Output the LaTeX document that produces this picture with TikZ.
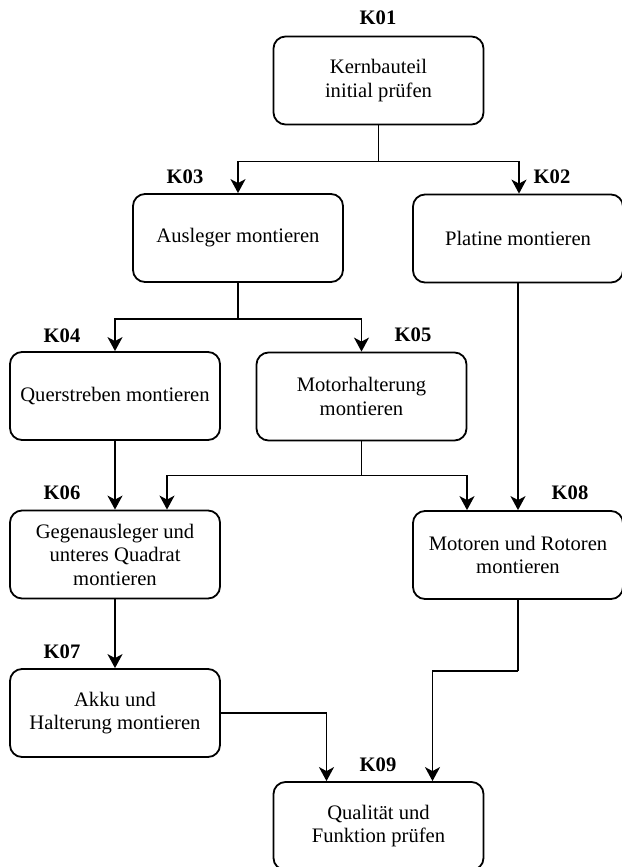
\documentclass[tikz,border=0pt]{standalone}
\usepackage{fontspec}
\setmainfont{Liberation Serif}
\usetikzlibrary{arrows.meta}
\begin{document}
\begin{tikzpicture}[x=1pt,y=-1pt,
  box/.style={draw, line width=1.8pt, rounded corners=12pt, minimum width=210pt, minimum height=88pt,
    inner sep=0pt, align=center, font=\fontsize{20.6}{23.5}\selectfont},
  lbl/.style={font=\fontsize{20.6}{23.5}\selectfont\bfseries, inner sep=0pt},
  arr/.style={line width=1.8pt, -{Stealth[length=14pt,width=15pt,inset=4pt]}},
  ln/.style={line width=1.8pt}]
\useasboundingbox (0,0) rectangle (621,867);
\node[box] (k01) at (378.5,80.5) {Kernbauteil\\initial prüfen};
\node[box] (k03) at (238,238) {Ausleger montieren};
\node[box] (k02) at (518,238.5) {Platine montieren};
\node[box] (k04) at (115,396) {Querstreben montieren};
\node[box] (k05) at (361.5,396.5) {Motorhalterung\\montieren};
\node[box] (k06) at (115,554.5) {Gegenausleger und\\unteres Quadrat\\montieren};
\node[box] (k08) at (518,555) {Motoren und Rotoren\\montieren};
\node[box] (k07) at (115,713) {Akku und\\Halterung montieren};
\node[box] (k09) at (378.5,826) {Qualität und\\Funktion prüfen};

\node[lbl] (l01) at (378,18) {K01};
\node[lbl] (l03) at (185,177) {K03};
\node[lbl] (l02) at (552,177) {K02};
\node[lbl] (l04) at (62,336) {K04};
\node[lbl] (l05) at (413,335) {K05};
\node[lbl] (l06) at (62,493) {K06};
\node[lbl] (l08) at (570,493) {K08};
\node[lbl] (l07) at (62,652) {K07};
\node[lbl] (l09) at (378,765) {K09};

\coordinate (j1) at ([yshift=-36pt]k01.south);
\draw[ln] (k01.south) -- (j1);
\draw[arr] (j1) -| (k03.north);
\draw[arr] (j1) -| ([xshift=1pt]k02.north);

\coordinate (j2) at ([yshift=-36pt]k03.south);
\draw[ln] (k03.south) -- (j2);
\draw[arr] (j2) -| (k04.north);
\draw[arr] (j2) -| (k05.north);

\coordinate (j3) at ([yshift=-34pt]k05.south);
\draw[ln] (k05.south) -- (j3);
\draw[arr] (j3) -| ([xshift=52pt]k06.north);
\draw[arr] (j3) -| ([xshift=-51pt]k08.north);

\draw[arr] (k04.south) -- (k06.north);
\draw[arr] (k02.south) -- (k08.north);
\draw[arr] (k06.south) -- (k07.north);

\draw[arr] (k07.east) -| ([xshift=-52pt]k09.north);
\coordinate (j4) at ([yshift=-71pt]k08.south);
\draw[ln] (k08.south) -- (j4);
\draw[arr] (j4) -| ([xshift=54pt]k09.north);
\end{tikzpicture}
\end{document}
